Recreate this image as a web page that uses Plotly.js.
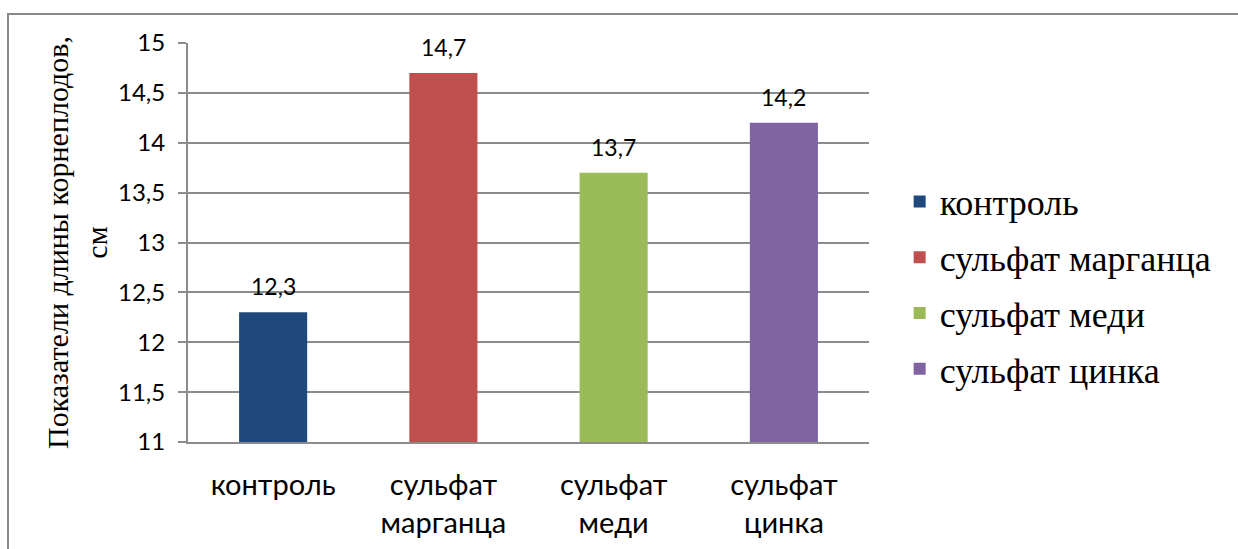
<!DOCTYPE html>
<html>
<head>
<meta charset="utf-8">
<script src="https://cdn.plot.ly/plotly-3.0.1.min.js"></script>
<style>
  html, body { margin: 0; padding: 0; background: #fff; }
  #chart { width: 1238px; height: 549px; position: absolute; left: 0; top: 0; }
  #frame { position: absolute; left: 7px; top: 13px; width: 1300px; height: 600px;
           border: 2px solid #888888; pointer-events: none; box-sizing: border-box; }
</style>
</head>
<body>
<div id="chart"></div>
<div id="frame"></div>
<script>
const categories = ["контроль", "сульфат<br>марганца", "сульфат<br>меди", "сульфат<br>цинка"];
const seriesNames = ["контроль", "сульфат марганца", "сульфат меди", "сульфат цинка"];
const values = [12.3, 14.7, 13.7, 14.2];
const colors = ["#1F497D", "#C0504D", "#9BBB59", "#8064A2"];
const yTicks = [11, 11.5, 12, 12.5, 13, 13.5, 14, 14.5, 15];

const fmt = v => String(v).replace(".", ",");

const traces = seriesNames.map((name, i) => ({
  type: "bar",
  name: name,
  x: [categories[i]],
  y: [values[i]],
  width: 0.4,
  marker: { color: colors[i] },
  legendgroup: "g" + i,
  hoverinfo: "x+y"
}));

const annotations = values.map((v, i) => ({
  x: categories[i], y: v, xref: "x", yref: "y",
  text: fmt(v), showarrow: false,
  yanchor: "bottom", yshift: 10,
  font: { family: "Lato, sans-serif", size: 23, color: "#000" }
}));

const layout = {
  width: 1238,
  height: 549,
  margin: { l: 188, r: 369, t: 43, b: 107 },
  paper_bgcolor: "rgba(0,0,0,0)",
  plot_bgcolor: "rgba(0,0,0,0)",
  separators: ", ",
  barmode: "overlay",
  showlegend: true,
  annotations: annotations,
  legend: {
    x: 1.045, y: 0.678, xanchor: "left", yanchor: "top",
    font: { family: "Liberation Serif, Times New Roman, serif", size: 36, color: "#000" },
    tracegroupgap: 6,
    bgcolor: "rgba(0,0,0,0)"
  },
  xaxis: {
    type: "category",
    categoryorder: "array",
    categoryarray: categories,
    showline: true, linecolor: "#8c8c8c", linewidth: 2,
    ticks: "", showgrid: false,
    tickfont: { family: "Lato, sans-serif", size: 29, color: "#000" },
    ticklabelstandoff: 16
  },
  yaxis: {
    range: [11, 15],
    tickvals: yTicks,
    ticktext: yTicks.map(fmt),
    showline: true, linecolor: "#8c8c8c", linewidth: 2,
    ticks: "outside", ticklen: 8, tickcolor: "#8c8c8c", tickwidth: 2,
    showgrid: true, gridcolor: "#8c8c8c", gridwidth: 2,
    zeroline: false,
    tickfont: { family: "Lato, sans-serif", size: 24, color: "#000" },
    ticklabelstandoff: 8,
    title: {
      text: "Показатели длины корнеплодов,<br>см",
      font: { family: "Liberation Serif, Times New Roman, serif", size: 30, color: "#000" },
      standoff: 1
    }
  }
};

Plotly.newPlot("chart", traces, layout, { displayModeBar: false, staticPlot: true });
</script>
</body>
</html>
